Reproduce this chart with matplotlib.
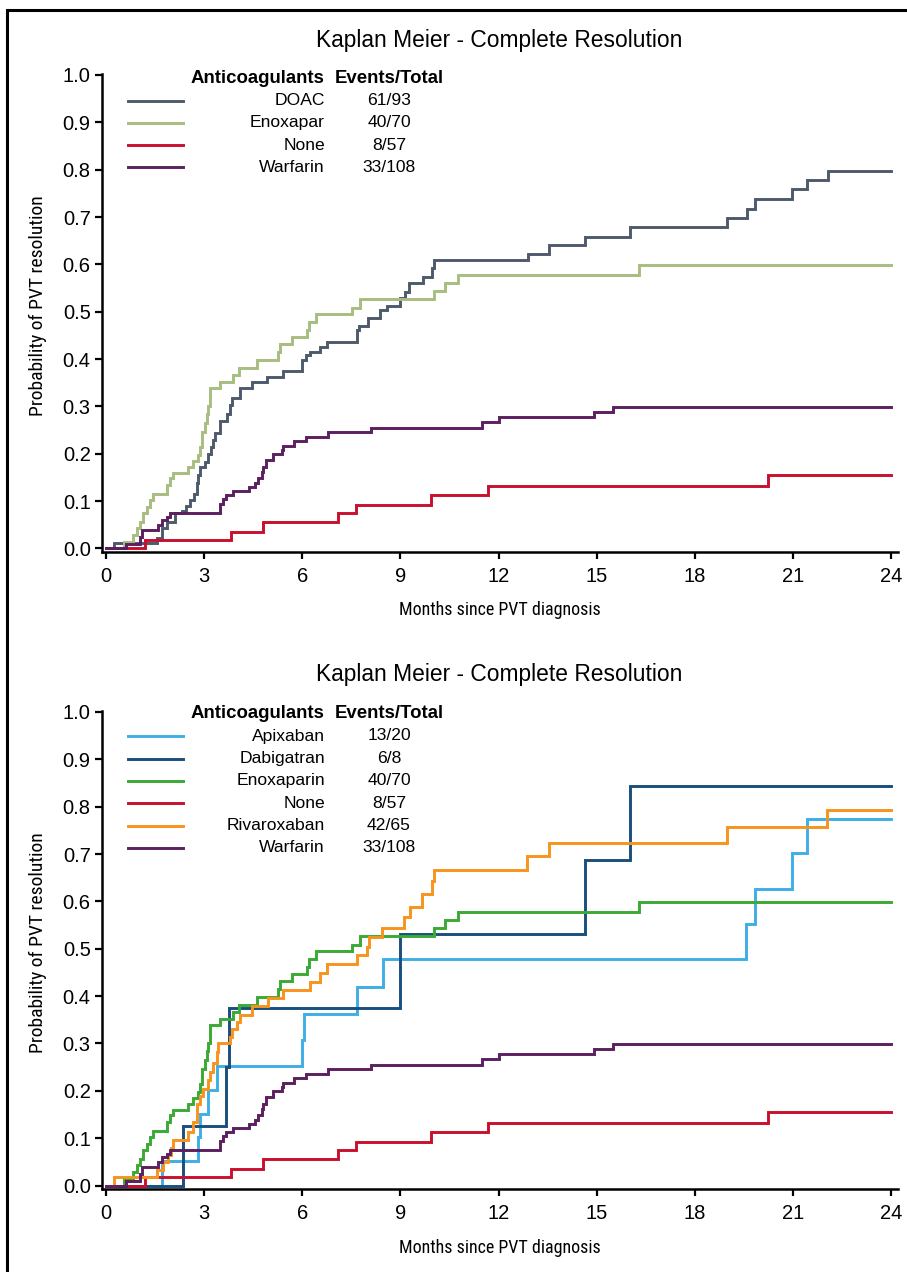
import matplotlib
matplotlib.use('Agg')
import matplotlib.pyplot as plt
from matplotlib.lines import Line2D
from matplotlib.patches import Rectangle
from matplotlib import font_manager
from matplotlib.font_manager import FontProperties

# ---------------- data ----------------
months_ticks = [0, 3, 6, 9, 12, 15, 18, 21, 24]
prob_ticks = [0.0, 0.1, 0.2, 0.3, 0.4, 0.5, 0.6, 0.7, 0.8, 0.9, 1.0]

doac_t = [0, 0.25, 1.55, 1.70, 1.86, 2.11, 2.31, 2.45, 2.57, 2.70, 2.77, 2.82, 2.87,
          3.03, 3.13, 3.21, 3.28, 3.33, 3.49, 3.69, 3.79, 3.84, 4.10, 4.45, 4.91,
          5.40, 5.98, 6.10, 6.24, 6.54, 6.75, 7.66, 7.72, 8.02, 8.38, 8.58, 8.99,
          9.14, 9.27, 9.68, 9.96, 10.03, 12.89, 13.55, 14.64, 16.02, 19.00, 19.59,
          19.84, 20.98, 21.42, 22.08, 24.0]
doac_p = [0, 0.011, 0.022, 0.043, 0.055, 0.074, 0.080, 0.090, 0.102, 0.116, 0.138,
          0.155, 0.173, 0.183, 0.200, 0.215, 0.229, 0.244, 0.270, 0.285, 0.303,
          0.318, 0.338, 0.352, 0.363, 0.375, 0.398, 0.408, 0.416, 0.425, 0.437,
          0.461, 0.470, 0.486, 0.504, 0.512, 0.528, 0.542, 0.560, 0.574, 0.592,
          0.609, 0.623, 0.641, 0.658, 0.680, 0.699, 0.718, 0.738, 0.759, 0.778,
          0.798, 0.798]

enox_t = [0, 0.55, 0.84, 0.95, 1.04, 1.14, 1.24, 1.35, 1.45, 1.86, 1.96, 2.06, 2.52,
          2.67, 2.82, 2.87, 2.93, 3.02, 3.08, 3.13, 3.18, 3.49, 3.89, 4.08, 4.61,
          5.27, 5.32, 5.68, 6.14, 6.22, 6.43, 7.51, 7.75, 10.04, 10.36, 10.77,
          16.28, 24.0]
enox_p = [0, 0.014, 0.028, 0.043, 0.057, 0.074, 0.088, 0.102, 0.116, 0.134, 0.148,
          0.159, 0.173, 0.185, 0.197, 0.215, 0.247, 0.265, 0.285, 0.300, 0.338,
          0.352, 0.366, 0.382, 0.398, 0.416, 0.431, 0.446, 0.461, 0.479, 0.495,
          0.508, 0.526, 0.544, 0.560, 0.578, 0.599, 0.599]

none_t = [0, 1.19, 3.81, 4.81, 7.10, 7.63, 9.93, 11.67, 20.25, 24.0]
none_p = [0, 0.018, 0.035, 0.055, 0.074, 0.092, 0.112, 0.132, 0.155, 0.155]

warf_t = [0, 0.61, 1.04, 1.09, 1.60, 1.70, 1.86, 1.96, 3.47, 3.59, 3.67, 3.89, 4.38,
          4.55, 4.65, 4.76, 4.81, 4.89, 5.11, 5.37, 5.42, 5.76, 6.11, 6.78, 8.10,
          11.49, 12.02, 14.92, 15.49, 24.0]
warf_p = [0, 0.0095, 0.025, 0.039, 0.050, 0.060, 0.067, 0.074, 0.095, 0.105, 0.114,
          0.121, 0.130, 0.139, 0.148, 0.162, 0.172, 0.187, 0.199, 0.207, 0.216,
          0.226, 0.236, 0.245, 0.255, 0.268, 0.278, 0.288, 0.298, 0.298]

apix_t = [0, 1.72, 2.80, 2.87, 3.13, 3.38, 5.98, 6.05, 7.68, 8.48, 19.58, 19.84,
          20.98, 21.42, 24.0]
apix_p = [0, 0.052, 0.103, 0.152, 0.201, 0.252, 0.307, 0.362, 0.419, 0.478, 0.553,
          0.626, 0.702, 0.775, 0.775]

dabi_t = [0, 2.36, 3.68, 3.75, 8.99, 14.64, 16.02, 24.0]
dabi_p = [0, 0.125, 0.250, 0.375, 0.531, 0.688, 0.844, 0.844]

riva_t = [0, 0.25, 1.55, 1.75, 1.90, 2.00, 2.06, 2.52, 2.67, 2.77, 2.87, 2.97, 3.13,
          3.18, 3.28, 3.38, 3.43, 3.79, 3.84, 4.00, 4.10, 4.45, 4.96, 5.42, 6.24,
          6.54, 6.75, 7.66, 7.97, 8.05, 8.43, 9.11, 9.29, 9.65, 9.96, 10.04, 12.88,
          13.55, 19.00, 22.05, 24.0]
riva_p = [0, 0.019, 0.033, 0.050, 0.065, 0.080, 0.096, 0.114, 0.135, 0.173, 0.188,
          0.203, 0.222, 0.240, 0.258, 0.282, 0.300, 0.314, 0.330, 0.346, 0.360,
          0.379, 0.395, 0.412, 0.430, 0.449, 0.467, 0.486, 0.504, 0.525, 0.543,
          0.567, 0.588, 0.615, 0.643, 0.667, 0.696, 0.723, 0.758, 0.792, 0.792]

top_labels = ['DOAC', 'Enoxapar', 'None', 'Warfarin']
top_counts = ['61/93', '40/70', '8/57', '33/108']
top_colors = ['#4e5a6b', '#a8bd80', '#c8102e', '#5c1f60']
top_series = [(doac_t, doac_p), (enox_t, enox_p), (none_t, none_p), (warf_t, warf_p)]

bot_labels = ['Apixaban', 'Dabigatran', 'Enoxaparin', 'None', 'Rivaroxaban', 'Warfarin']
bot_counts = ['13/20', '6/8', '40/70', '8/57', '42/65', '33/108']
bot_colors = ['#3daee6', '#1a4e7e', '#3aaa35', '#c8102e', '#f7941d', '#5c1f60']
bot_series = [(apix_t, apix_p), (dabi_t, dabi_p), (enox_t, enox_p),
              (none_t, none_p), (riva_t, riva_p), (warf_t, warf_p)]

title_text = 'Kaplan Meier - Complete Resolution'
ylabel_text = 'Probability of PVT resolution'
xlabel_text = 'Months since PVT diagnosis'

# ---------------- fonts ----------------
W, H = 907, 1272
fig = plt.figure(figsize=(W / 100, H / 100), dpi=100)

ttf = font_manager.fontManager.ttflist
names = {f.name for f in ttf}
base_font = 'Liberation Sans' if 'Liberation Sans' in names else 'DejaVu Sans'
plt.rcParams['font.family'] = base_font

narrow_fp = None
prefs = ['LiberationSansNarrow-Regular', 'ArialNarrow', 'Arimo', 'RobotoCondensed-Regular',
         'OpenSansCondensed', 'NotoSans-Condensed.', 'NotoSans-Condensed',
         'DejaVuSansCondensed.', 'DejaVuSansCondensed']
cands = []
for f in ttf:
    fn = f.fname.split('/')[-1]
    if ('Narrow' in fn or 'Condensed' in fn or f.stretch in ('condensed', 'semi-condensed')) \
            and 'Bold' not in fn and 'Italic' not in fn and 'Oblique' not in fn \
            and 'Light' not in fn and 'Medium' not in fn and 'Semi' not in fn \
            and 'Extra' not in fn and 'Thin' not in fn and 'Black' not in fn:
        cands.append(f)


def rank(f):
    fn = f.fname.split('/')[-1]
    for i, p in enumerate(prefs):
        if fn.startswith(p):
            return i
    return len(prefs)


if cands:
    cands.sort(key=rank)
    narrow_fp = cands[0].fname


def narrow_props(size):
    if narrow_fp:
        return FontProperties(fname=narrow_fp, size=size)
    return FontProperties(family=base_font, size=size * 0.86)


# ---------------- layout ----------------
XMIN, XMAX = -0.13, 24.2
YMIN, YMAX = -0.0074, 1.003
PX_MONTH = 32.71
PX_UNIT = 473.5
X0_PX = 106


def fx(px):
    return px / W


def fy(py):
    return 1 - py / H


def make_panel(y0_px, labels, counts, colors, series, leg_rows_px, head_px, title_px,
               xlabel_px):
    left_px = X0_PX + XMIN * PX_MONTH
    width_px = (XMAX - XMIN) * PX_MONTH
    bottom_px = y0_px - YMIN * PX_UNIT
    height_px = (YMAX - YMIN) * PX_UNIT
    ax = fig.add_axes([left_px / W, 1 - bottom_px / H, width_px / W, height_px / H])
    for (t, p), c in zip(series, colors):
        ax.step(t, p, where='post', color=c, lw=2.1, solid_joinstyle='miter')
    ax.set_xlim(XMIN, XMAX)
    ax.set_ylim(YMIN, YMAX)
    ax.set_xticks(months_ticks)
    ax.set_yticks(prob_ticks)
    ax.set_yticklabels(['%.1f' % v for v in prob_ticks])
    for s in ['top', 'right']:
        ax.spines[s].set_visible(False)
    for s in ['left', 'bottom']:
        ax.spines[s].set_linewidth(1.8)
    ax.tick_params(axis='both', direction='out', length=5, width=1.6, labelsize=14.5,
                   colors='black')
    ax.tick_params(axis='x', pad=6)
    ax.tick_params(axis='y', pad=3)

    # title and axis labels
    fig.text(fx(499), fy(title_px), title_text, ha='center', va='center', fontsize=16.4)
    fig.text(fx(38), fy(y0_px - 243), ylabel_text, rotation=90, ha='center',
             va='center', fontproperties=narrow_props(14.0))
    fig.text(fx(500), fy(xlabel_px), xlabel_text, ha='center', va='center',
             fontproperties=narrow_props(13.0))

    # tabular legend
    fig.text(fx(324), fy(head_px), 'Anticoagulants', ha='right', va='center',
             fontsize=13.4, fontweight='bold')
    fig.text(fx(389), fy(head_px), 'Events/Total', ha='center', va='center',
             fontsize=13.4, fontweight='bold')
    for lab, cnt, c, ypx in zip(labels, counts, colors, leg_rows_px):
        fig.add_artist(Line2D([fx(128), fx(183)], [fy(ypx), fy(ypx)], color=c, lw=2.1,
                              transform=fig.transFigure))
        fig.text(fx(325), fy(ypx), lab, ha='right', va='center', fontsize=12.6)
        fig.text(fx(389), fy(ypx), cnt, ha='center', va='center', fontsize=12.6)
    return ax


make_panel(548.5, top_labels, top_counts, top_colors, top_series,
           [100.5, 122.7, 145.0, 167.3], 78.3, 40, 610)
make_panel(1185.5, bot_labels, bot_counts, bot_colors, bot_series,
           [736, 758.7, 780.7, 803.3, 825.7, 847.7], 713.3, 675, 1248)

# outer frame (left and top edges visible)
fig.add_artist(Rectangle((fx(7), fy(H + 20)), fx(W + 40), fy(10) - fy(H + 20),
                         transform=fig.transFigure, fill=False, ec='black', lw=2.2))

fig.savefig('out.png', dpi=100)
